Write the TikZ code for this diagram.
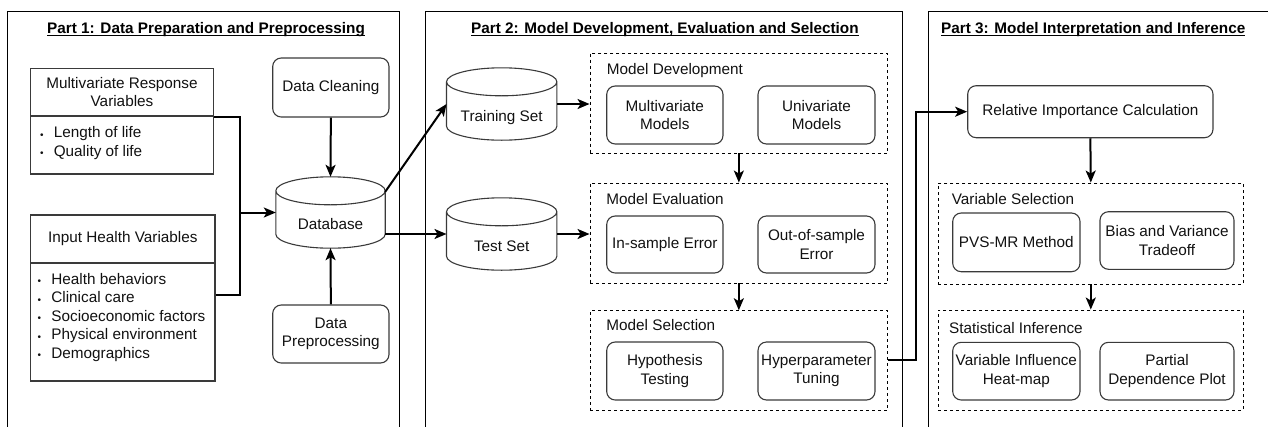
\documentclass[tikz,border=0pt]{standalone}
\usepackage{fontspec}
\setmainfont{Liberation Sans}
\usetikzlibrary{arrows.meta,calc}
\definecolor{edge}{HTML}{3A3A3A}
\definecolor{ink}{HTML}{111111}
\tikzset{
  every node/.style={font=\fontsize{15.3}{18.3}\selectfont, text=ink},
  panel/.style={draw=black, line width=1pt, inner sep=0},
  grp/.style={draw=black, line width=0.9pt, dash pattern=on 3pt off 3pt, inner sep=0},
  rbox/.style={draw=edge, line width=1.1pt, rounded corners=8.5pt, align=center, inner sep=0},
  sqbox/.style={draw=edge, line width=1.1pt, align=center, inner sep=0},
  cylbox/.style={inner sep=0},
  cylline/.style={draw=edge, line width=1.1pt},
  link/.style={draw=black, line width=2pt},
  flow/.style={link, -{Stealth[length=12pt,width=10pt,inset=3pt]}},
  title/.style={font=\fontsize{15.3}{18.3}\selectfont\bfseries, anchor=base west, inner sep=0, text=black},
  lbl/.style={anchor=base west, inner sep=0},
  uline/.style={draw=black, line width=1pt},
}
% node from its corners: style, name, left, top, right, bottom, text
\newcommand\boxat[7]{%
  \node[#1, minimum width=#5pt-#3pt, minimum height=#6pt-#4pt] (#2)
    at ({(#3+#5)/2},{(#4+#6)/2}) {#7};}
% cylinder outline drawn round a named node
\newcommand\cylof[1]{%
  \draw[cylline] let \p1=(#1.north west), \p2=(#1.south east), \n1={(\x2-\x1)/2} in
    (\x1,\y1-14pt) -- (\x1,\y2+14pt)
      arc[start angle=180, end angle=360, x radius=\n1, y radius=14pt]
      -- (\x2,\y1-14pt)
      arc[start angle=0, end angle=180, x radius=\n1, y radius=14pt] -- cycle
    (\x1,\y1-14pt) arc[start angle=180, end angle=360, x radius=\n1, y radius=14pt];}
% small list bullet
\newcommand\bul{\makebox[13.8pt][l]{\fontsize{10}{10}\selectfont\raisebox{-0.3pt}{\textbullet}}}
% underlined title line
\newcommand\ulineof[1]{%
  \draw[uline] ([yshift=-1.5pt]#1.base west) -- ([yshift=-1.5pt]#1.base east);}

\begin{document}
\begin{tikzpicture}[x=1pt, y=-1pt]
\useasboundingbox (0,0) rectangle (1268,426);
\clip (0,0) rectangle (1268,426);

% ---- panels and titles
\boxat{panel}{p1}{7.3}{11}{399.5}{440}{}
\boxat{panel}{p2}{425}{11}{902.3}{440}{}
\boxat{panel}{p3}{928.3}{11}{1290}{440}{}
\node[title] (t1) at (47,33.7) {Part 1: Data Preparation and Preprocessing};
\node[title] (t2) at (471,33.7) {Part 2: Model Development, Evaluation and Selection\ };
\node[title] (t3) at (941,33.7) {Part 3: Model Interpretation and Inference\ };
\ulineof{t1}\ulineof{t2}\ulineof{t3}

% ---- part 1: variables
\boxat{sqbox}{mrvhead}{30.7}{68.3}{213.3}{116}{Multivariate Response\\Variables}
\boxat{sqbox}{mrvbody}{30.7}{116}{213.3}{174}{}
\node[lbl] (mrv1) at (39.8,137.7) {\bul Length of life};
\node[lbl] (mrv2) at (39.8,156.0) {\bul Quality of life};

\boxat{sqbox}{ihvhead}{30.7}{215}{215}{263}{Input Health Variables}
\boxat{sqbox}{ihvbody}{30.7}{263}{215}{381}{}
\node[lbl] (ihv1) at (37.4,284.5) {\bul Health behaviors};
\node[lbl] (ihv2) at (37.4,302.9) {\bul Clinical care};
\node[lbl] (ihv3) at (37.4,321.3) {\bul Socioeconomic factors};
\node[lbl] (ihv4) at (37.4,339.7) {\bul Physical environment};
\node[lbl] (ihv5) at (37.4,358.1) {\bul Demographics};

% ---- part 1: database
\boxat{rbox}{dc}{272.7}{58}{389}{117}{Data Cleaning}
\boxat{rbox}{dp}{272.7}{305}{389}{363}{Data\\Preprocessing}
\boxat{cylbox}{db}{276}{177}{385}{248}{}
\cylof{db}
\node[anchor=base] (dbt) at ($(db.center)+(0,17)$) {Database};

% ---- part 2
\boxat{cylbox}{train}{446.7}{68}{556.7}{140}{}
\cylof{train}
\node[anchor=base] (traint) at ($(train.center)+(0,17.5)$) {Training Set};
\boxat{cylbox}{test}{446.7}{198}{556.7}{270}{}
\cylof{test}
\node[anchor=base] (testt) at ($(test.center)+(0,17.5)$) {Test Set};

\boxat{grp}{gmd}{590}{53}{887.7}{153}{}
\node[lbl] (gmdl) at (606.7,74.5) {Model Development};
\boxat{rbox}{mm}{606.7}{86}{723}{144}{Multivariate\\Models}
\boxat{rbox}{um}{758}{86}{875}{144}{Univariate\\Models}

\boxat{grp}{gme}{590}{183}{887.7}{283}{}
\node[lbl] (gmel) at (606.2,204.5) {Model Evaluation};
\boxat{rbox}{ise}{606.7}{216}{723}{273}{In-sample Error}
\boxat{rbox}{ose}{758}{216}{875}{273}{Out-of-sample\\Error}

\boxat{grp}{gms}{590}{310.7}{887.7}{410}{}
\node[lbl] (gmsl) at (606.2,330.5) {Model Selection};
\boxat{rbox}{ht}{606.7}{342}{723}{400}{Hypothesis\\Testing}
\boxat{rbox}{hpt}{758}{342}{875}{400}{Hyperparameter\\Tuning}

% ---- part 3
\boxat{rbox}{ric}{967.7}{85.7}{1213}{137.7}{Relative Importance Calculation}

\boxat{grp}{gvs}{938.3}{183}{1243.3}{284}{}
\node[lbl] (gvsl) at (951.7,204.5) {Variable Selection};
\boxat{rbox}{pvs}{952.7}{213}{1080}{271.7}{PVS-MR Method}
\boxat{rbox}{bvt}{1100}{211.7}{1234}{269.3}{Bias and Variance\\Tradeoff}

\boxat{grp}{gsi}{938.3}{310}{1243.3}{410}{}
\node[lbl] (gsil) at (949,333.5) {Statistical Inference};
\boxat{rbox}{vih}{952.7}{342.3}{1080}{400}{Variable Influence\\Heat-map}
\boxat{rbox}{pdp}{1100}{342.3}{1234}{400}{Partial\\Dependence Plot}

% ---- connectors
\coordinate (merge) at (239.5,212.5);
\draw[link] (mrvhead.south east) -| (merge);
\draw[link] ($(ihvbody.north east)+(0,33)$) -| (merge);
\draw[flow] (merge) -- (db.west);
\draw[flow] (dc.south) -- (db.north);
\draw[flow] (dp.north) -- (db.south);
\draw[flow] ($(db.north east)+(0,15)$) -- (train.west);
\draw[flow] (db.east |- test.west) -- (test.west);
\draw[flow] (train.east) -- (gmd.west |- train.east);
\draw[flow] (test.east) -- (gme.west |- test.east);
\draw[flow] (gmd.south) -- (gme.north);
\draw[flow] (gme.south) -- (gms.north);
\draw[flow] (gms.east) -- ++(28,0) |- (ric.west);
\draw[flow] (ric.south) -- (gvs.north);
\draw[flow] (gvs.south) -- (gsi.north);
\end{tikzpicture}
\end{document}
